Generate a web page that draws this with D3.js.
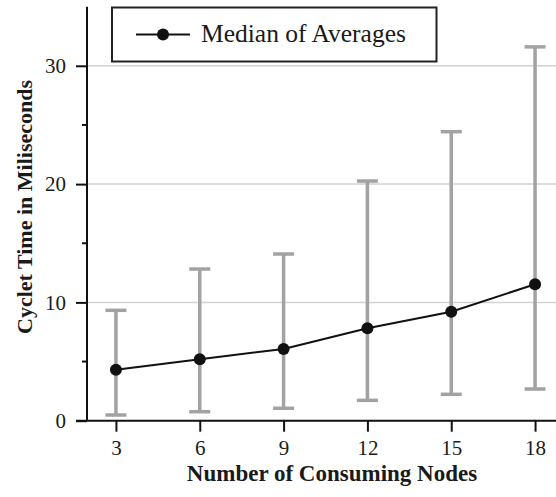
<!DOCTYPE html>
<html>
<head>
<meta charset="utf-8">
<script src="https://cdn.jsdelivr.net/npm/d3@7"></script>
<style>
  body { margin: 0; background: #fff; }
  svg { display: block; }
  svg text { font-family: "Liberation Serif", Tinos, "Times New Roman", Times, "DejaVu Serif", serif; fill: #1a1a1a; }
</style>
</head>
<body>
<svg id="chart" width="556" height="497"></svg>
<script>
// ---------------- data ----------------
var nodes = [3, 6, 9, 12, 15, 18];
var medianAvg = [4.3, 5.2, 6.06, 7.81, 9.21, 11.53];
var lowVals = [0.48, 0.76, 1.05, 1.72, 2.23, 2.68];
var highVals = [9.33, 12.82, 14.09, 20.26, 24.43, 31.6];
var yMajorTicks = [0, 10, 20, 30];
var yMinorTicks = [5, 15, 25];
var seriesName = "Median of Averages";

var FONT = '"Liberation Serif", Tinos, "Times New Roman", Times, "DejaVu Serif", serif';

var rows = nodes.map(function(n, i) {
  return { n: n, med: medianAvg[i], lo: lowVals[i], hi: highVals[i] };
});

// ---------------- scales ----------------
var svg = d3.select("#chart");
var axisX = 87;      // y axis position
var W = 556;

var xScale = d3.scaleLinear().domain([2, 19]).range([88, 563]);
var yScale = d3.scaleLinear().domain([0, 35]).range([420.7, 6.65]);

// gridlines
svg.append("g").selectAll("line")
  .data(yMajorTicks.filter(function(d) { return d > 0; }))
  .enter().append("line")
    .attr("x1", axisX).attr("x2", W)
    .attr("y1", function(d) { return yScale(d); })
    .attr("y2", function(d) { return yScale(d); })
    .style("stroke", "#d2d2d2")
    .style("stroke-width", 1.5);

// error bars
var eb = svg.append("g").attr("class", "errorbars");
eb.selectAll("line.stem").data(rows).enter().append("line")
  .attr("class", "stem")
  .attr("x1", function(d) { return xScale(d.n); })
  .attr("x2", function(d) { return xScale(d.n); })
  .attr("y1", function(d) { return yScale(d.lo); })
  .attr("y2", function(d) { return yScale(d.hi); })
  .style("stroke", "#a2a2a2").style("stroke-width", 3.5);

["lo", "hi"].forEach(function(key) {
  eb.selectAll("line.cap-" + key).data(rows).enter().append("line")
    .attr("class", "cap-" + key)
    .attr("x1", function(d) { return xScale(d.n) - 10.5; })
    .attr("x2", function(d) { return xScale(d.n) + 10.5; })
    .attr("y1", function(d) { return yScale(d[key]); })
    .attr("y2", function(d) { return yScale(d[key]); })
    .style("stroke", "#a2a2a2").style("stroke-width", 3.5);
});

// median line + dots
var line = d3.line()
  .x(function(d) { return xScale(d.n); })
  .y(function(d) { return yScale(d.med); });

svg.append("path").datum(rows)
  .attr("d", line)
  .style("fill", "none")
  .style("stroke", "#111")
  .style("stroke-width", 2);

svg.append("g").selectAll("circle").data(rows).enter().append("circle")
  .attr("cx", function(d) { return xScale(d.n); })
  .attr("cy", function(d) { return yScale(d.med); })
  .attr("r", 6)
  .style("fill", "#111");

// ---------------- axes ----------------
var xAxis = svg.append("g")
  .attr("transform", "translate(0," + yScale(0) + ")")
  .call(d3.axisBottom(xScale).tickValues(nodes).tickSize(11).tickSizeOuter(0).tickPadding(8));
xAxis.attr("font-family", null).attr("font-size", null);
xAxis.select(".domain").remove();
xAxis.selectAll(".tick line").style("stroke", "#111").style("stroke-width", 2);
xAxis.selectAll(".tick text").style("font-size", "21px").style("font-family", FONT).attr("fill", "#1a1a1a");

var yAxis = svg.append("g")
  .attr("transform", "translate(" + axisX + ",0)")
  .call(d3.axisLeft(yScale).tickValues(yMajorTicks).tickSize(11).tickSizeOuter(0).tickPadding(10));
yAxis.attr("font-family", null).attr("font-size", null);
yAxis.select(".domain").remove();
yAxis.selectAll(".tick line").style("stroke", "#111").style("stroke-width", 2);
yAxis.selectAll(".tick text").style("font-size", "21px").style("font-family", FONT).attr("fill", "#1a1a1a");

// minor y ticks
svg.append("g").selectAll("line").data(yMinorTicks).enter().append("line")
  .attr("x1", axisX - 5).attr("x2", axisX)
  .attr("y1", function(d) { return yScale(d); })
  .attr("y2", function(d) { return yScale(d); })
  .style("stroke", "#111").style("stroke-width", 2);

// axis lines
svg.append("line")
  .attr("x1", axisX).attr("x2", axisX)
  .attr("y1", yScale(35)).attr("y2", yScale(0))
  .style("stroke", "#111").style("stroke-width", 2);
svg.append("line")
  .attr("x1", axisX - 11).attr("x2", W)
  .attr("y1", yScale(0)).attr("y2", yScale(0))
  .style("stroke", "#111").style("stroke-width", 2);

// axis titles
svg.append("text")
  .attr("x", 332).attr("y", 481)
  .attr("text-anchor", "middle")
  .style("font-family", FONT)
  .style("font-size", "23px").style("font-weight", "bold")
  .text("Number of Consuming Nodes");

svg.append("text")
  .attr("transform", "translate(32,207) rotate(-90)")
  .attr("text-anchor", "middle")
  .style("font-family", FONT)
  .style("font-size", "22px").style("font-weight", "bold")
  .text("Cyclet Time in Miliseconds");

// ---------------- legend ----------------
var lg = svg.append("g");
lg.append("rect")
  .attr("x", 112).attr("y", 7.5)
  .attr("width", 324.5).attr("height", 54)
  .style("fill", "#fff").style("stroke", "#222").style("stroke-width", 2);
lg.append("line")
  .attr("x1", 136).attr("x2", 190).attr("y1", 34.5).attr("y2", 34.5)
  .style("stroke", "#111").style("stroke-width", 2);
lg.append("circle").attr("cx", 163).attr("cy", 34.5).attr("r", 6).style("fill", "#111");
lg.append("text")
  .attr("x", 201).attr("y", 41.5)
  .style("font-family", FONT)
  .style("font-size", "25.5px")
  .text(seriesName);
</script>
</body>
</html>
